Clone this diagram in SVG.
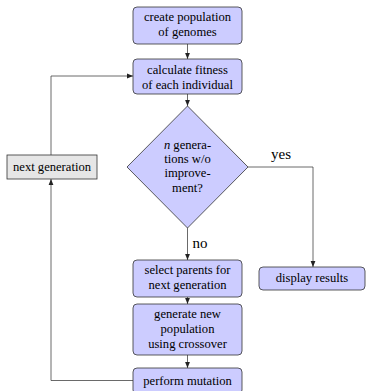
<svg xmlns="http://www.w3.org/2000/svg" width="366" height="391" viewBox="0 0 366 391">
<style>
.node{fill:#ccccff;stroke:#333;stroke-width:0.8}
.grey{fill:#e6e6e6;stroke:#333;stroke-width:0.8}
text{font-family:'Liberation Serif','Times New Roman',serif;font-size:12.6px;fill:#000;text-anchor:middle}
.lbl{font-size:15px}
.edge{fill:none;stroke:#444;stroke-width:0.8}
</style>
<defs>
<marker id="ah" viewBox="0 0 6 6" refX="6" refY="3" markerWidth="6" markerHeight="6" markerUnits="userSpaceOnUse" orient="auto">
<path d="M0,0.6 L6,3 L0,5.4 Z" fill="#222"/>
</marker>
</defs>
<g id="connectors">
<path class="edge" d="M187.5,44 V59" marker-end="url(#ah)"/>
<path class="edge" d="M187.5,94 V106" marker-end="url(#ah)"/>
<path class="edge" d="M248,167 H313 V267" marker-end="url(#ah)"/>
<path class="edge" d="M187.5,228 V260" marker-end="url(#ah)"/>
<path class="edge" d="M187.5,297 V304" marker-end="url(#ah)"/>
<path class="edge" d="M187.5,355 V368" marker-end="url(#ah)"/>
<path class="edge" d="M133,380.5 H51 V179" marker-end="url(#ah)"/>
<path class="edge" d="M51,155 V76 H133" marker-end="url(#ah)"/>
<text class="lbl" x="281" y="159">yes</text>
<text class="lbl" x="200" y="248">no</text>
</g>
<g id="create">
<rect class="node" x="133" y="7" width="109" height="37" rx="4"/>
<text x="187.5" y="21">create population</text>
<text x="187.5" y="36">of genomes</text>
</g>
<g id="fitness">
<rect class="node" x="133" y="59" width="109" height="35" rx="4"/>
<text x="187.5" y="74">calculate fitness</text>
<text x="187.5" y="89">of each individual</text>
</g>
<g id="decision">
<polygon class="node" points="187.5,106 248,167 187.5,228 127,167"/>
<text x="187.5" y="149"><tspan font-style="italic">n</tspan> genera-</text>
<text x="187.5" y="163">tions w/o</text>
<text x="187.5" y="177">improve-</text>
<text x="187.5" y="192">ment?</text>
</g>
<g id="display">
<rect class="node" x="259" y="267" width="106" height="23" rx="4"/>
<text x="312" y="282">display results</text>
</g>
<g id="select">
<rect class="node" x="133" y="260" width="109" height="37" rx="4"/>
<text x="187.5" y="274">select parents for</text>
<text x="187.5" y="289">next generation</text>
</g>
<g id="generate">
<rect class="node" x="133" y="304" width="109" height="51" rx="4"/>
<text x="187.5" y="318">generate new</text>
<text x="187.5" y="333">population</text>
<text x="187.5" y="348">using crossover</text>
</g>
<g id="mutation">
<rect class="node" x="133" y="368" width="109" height="26" rx="4"/>
<text x="187.5" y="385">perform mutation</text>
</g>
<g id="nextgen">
<rect class="grey" x="7" y="155" width="90" height="24"/>
<text x="52" y="171">next generation</text>
</g>
</svg>
